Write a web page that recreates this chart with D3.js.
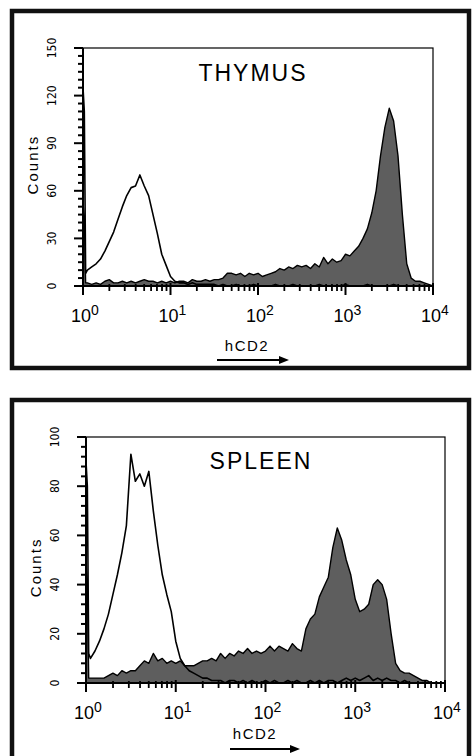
<!DOCTYPE html>
<html>
<head>
<meta charset="utf-8">
<script src="https://cdn.jsdelivr.net/npm/d3@7"></script>
<style>
  body { margin: 0; background: #fff; }
  svg { display: block; }
  text { font-family: "Liberation Sans", Arial, sans-serif; fill: #000; }
</style>
</head>
<body>
<div id="plot"></div>
<script>
// channel positions, in decades (log10 of hCD2 fluorescence)
const logBins = [0, 0.015, 0.03, 0.05, 0.10, 0.15, 0.20, 0.25, 0.30, 0.35, 0.40, 0.45, 0.50, 0.55, 0.60, 0.65,
  0.70, 0.75, 0.80, 0.85, 0.90, 0.95, 1.00, 1.05, 1.10, 1.15, 1.20, 1.25, 1.30, 1.35, 1.40, 1.45,
  1.50, 1.55, 1.60, 1.65, 1.70, 1.75, 1.80, 1.85, 1.90, 1.95, 2.00, 2.05, 2.10, 2.15, 2.20, 2.25,
  2.30, 2.35, 2.40, 2.45, 2.50, 2.55, 2.60, 2.65, 2.70, 2.75, 2.80, 2.85, 2.90, 2.95, 3.00, 3.05,
  3.10, 3.15, 3.20, 3.25, 3.30, 3.35, 3.40, 3.45, 3.50, 3.55, 3.60, 3.65, 3.70, 3.75, 3.80, 3.85,
  3.90, 3.95, 4.00];

// thymus: hCD2 stained (grey fill) and control (open line)
const thymusStained = [52, 44, 2, 2, 1, 2, 1, 3, 4, 2, 2, 3, 2, 3, 2, 3,
  4, 3, 3, 2, 3, 2, 3, 2, 3, 3, 2, 4, 3, 3, 4, 3,
  4, 4, 5, 8, 8, 7, 8, 6, 8, 7, 8, 6, 7, 8, 9, 11,
  10, 12, 11, 13, 12, 13, 11, 14, 12, 18, 14, 17, 15, 16, 20, 19,
  22, 25, 30, 36, 46, 60, 82, 100, 112, 104, 82, 45, 14, 5, 3, 3,
  2, 1, 0];
const thymusControl = [125, 110, 8, 10, 12, 14, 17, 22, 28, 34, 42, 50, 57, 62, 63, 70,
  63, 57, 45, 33, 20, 13, 6, 3, 2, 2, 1, 2, 1, 1, 1, 1,
  1, 0, 1, 0, 0, 1, 0, 0, 0, 1, 0, 0, 0, 0, 1, 0,
  0, 0, 1, 0, 0, 0, 0, 0, 1, 0, 0, 0, 0, 0, 1, 0,
  0, 0, 0, 1, 0, 0, 0, 0, 0, 1, 0, 0, 0, 0, 0, 0,
  0, 0, 0];

// spleen: hCD2 stained (grey fill) and control (open line)
const spleenStained = [50, 42, 2, 2, 2, 2, 2, 3, 4, 3, 5, 4, 5, 5, 7, 9,
  8, 12, 9, 10, 8, 9, 8, 9, 7, 7, 7, 8, 9, 9, 10, 9,
  12, 10, 12, 11, 13, 12, 14, 12, 13, 12, 13, 15, 13, 15, 14, 13,
  16, 14, 13, 22, 26, 28, 35, 39, 43, 55, 63, 58, 50, 44, 34, 29,
  30, 32, 40, 42, 40, 34, 20, 8, 5, 4, 4, 3, 2, 1, 1, 0,
  0, 0, 0];
const spleenControl = [90, 80, 12, 10, 13, 17, 22, 28, 36, 44, 53, 64, 93, 82, 85, 80,
  86, 70, 56, 44, 36, 29, 17, 10, 7, 5, 4, 3, 2, 2, 1, 1,
  1, 0, 1, 1, 0, 1, 0, 1, 0, 0, 1, 0, 1, 0, 0, 1,
  0, 1, 0, 0, 1, 0, 1, 0, 1, 1, 0, 1, 2, 1, 2, 1,
  2, 3, 1, 2, 1, 2, 1, 1, 0, 1, 0, 0, 0, 0, 0, 0,
  0, 0, 0];

const thymusYTicks = [0, 30, 60, 90, 120, 150];
const spleenYTicks = [0, 20, 40, 60, 80, 100];
const xTickExponents = [0, 1, 2, 3, 4];

const svg = d3.select("#plot")
    .append("svg")
    .attr("width", 472)
    .attr("height", 756);

function drawPanel(p) {
    // heavy outer frame
    svg.append("rect")
        .attr("x", p.frame[0]).attr("y", p.frame[1])
        .attr("width", p.frame[2]).attr("height", p.frame[3])
        .attr("fill", "none")
        .attr("stroke", "#111")
        .attr("stroke-width", 4.5);

    const g = svg.append("g")
        .attr("transform", `translate(${p.left},${p.top})`);

    const x = d3.scaleLog().domain([1, 1e4]).range([0, p.width]);
    const y = d3.scaleLinear().domain([0, p.yMax]).range([p.height, 0]);

    const pts = vals => logBins.map((b, i) => [x(Math.pow(10, b)), y(vals[i])]);

    // stained histogram, grey filled
    g.append("path")
        .datum(pts(p.stained))
        .attr("fill", "#5e5e5e")
        .attr("stroke", "#000")
        .attr("stroke-width", 1.4)
        .attr("stroke-linejoin", "round")
        .attr("d", d3.area().x(d => d[0]).y0(p.height).y1(d => d[1]));

    // control histogram, open line
    g.append("path")
        .datum(pts(p.control))
        .attr("fill", "none")
        .attr("stroke", "#000")
        .attr("stroke-width", 1.6)
        .attr("stroke-linejoin", "round")
        .attr("d", d3.line().x(d => d[0]).y(d => d[1]));

    // plot frame, axes a bit heavier
    g.append("rect")
        .attr("width", p.width).attr("height", p.height)
        .attr("fill", "none")
        .attr("stroke", "#000")
        .attr("stroke-width", 1.2);
    g.append("line")
        .attr("x1", 0).attr("x2", 0).attr("y1", 0).attr("y2", p.height)
        .attr("stroke", "#000").attr("stroke-width", 2);
    g.append("line")
        .attr("x1", 0).attr("x2", p.width).attr("y1", p.height).attr("y2", p.height)
        .attr("stroke", "#000").attr("stroke-width", 2);

    // y ticks: minor every step, major at labelled values
    const yMinor = d3.range(0, p.yMax + 0.01, p.yMinorStep).filter(v => !p.yTicks.includes(v));
    g.selectAll(".ymin")
        .data(yMinor)
        .join("line")
        .attr("class", "ymin")
        .attr("x1", -5).attr("x2", 0)
        .attr("y1", d => y(d)).attr("y2", d => y(d))
        .attr("stroke", "#000").attr("stroke-width", 2);
    g.selectAll(".ymaj")
        .data(p.yTicks)
        .join("line")
        .attr("class", "ymaj")
        .attr("x1", -9).attr("x2", 0)
        .attr("y1", d => y(d)).attr("y2", d => y(d))
        .attr("stroke", "#000").attr("stroke-width", 2);

    g.selectAll(".ylab")
        .data(p.yTicks)
        .join("text")
        .attr("class", "ylab")
        .attr("transform", d => `translate(-27,${y(d)}) rotate(-90)`)
        .attr("text-anchor", "middle")
        .style("font-family", "'DejaVu Sans Condensed', 'DejaVu Sans', sans-serif")
        .style("font-size", "12px")
        .text(d => d);

    g.append("text")
        .attr("transform", `translate(-45,${p.height * p.countsAt}) rotate(-90)`)
        .attr("text-anchor", "middle")
        .style("font-size", "15px")
        .style("letter-spacing", "2px")
        .text("Counts");

    // x ticks on the log scale
    const xMinor = [];
    xTickExponents.slice(0, -1).forEach(e => {
        for (let k = 2; k <= 9; k++) xMinor.push(k * Math.pow(10, e));
    });
    g.selectAll(".xmin")
        .data(xMinor)
        .join("line")
        .attr("class", "xmin")
        .attr("x1", d => x(d)).attr("x2", d => x(d))
        .attr("y1", p.height - 2).attr("y2", p.height + 5)
        .attr("stroke", "#000").attr("stroke-width", 1.8);
    g.selectAll(".xmaj")
        .data(xTickExponents)
        .join("line")
        .attr("class", "xmaj")
        .attr("x1", d => x(Math.pow(10, d))).attr("x2", d => x(Math.pow(10, d)))
        .attr("y1", p.height - 3).attr("y2", p.height + 9)
        .attr("stroke", "#000").attr("stroke-width", 2);

    const xl = g.selectAll(".xlab")
        .data(xTickExponents)
        .join("text")
        .attr("class", "xlab")
        .attr("x", d => x(Math.pow(10, d)) + 2)
        .attr("y", p.height + 36)
        .attr("text-anchor", "middle")
        .style("font-size", "18px");
    xl.append("tspan").text("10");
    xl.append("tspan").attr("dy", -7).style("font-size", "14px").text(d => d);

    // title
    g.append("text")
        .attr("x", p.titleX)
        .attr("y", p.titleY)
        .attr("text-anchor", "middle")
        .style("font-size", "23px")
        .style("letter-spacing", "2px")
        .text(p.title);

    // hCD2 label with arrow
    g.append("text")
        .attr("x", p.labelX)
        .attr("y", p.height + p.labelDy)
        .attr("text-anchor", "middle")
        .style("font-size", "15px")
        .style("letter-spacing", "1.5px")
        .text("hCD2");
    const ay = p.height + p.arrowDy;
    g.append("line")
        .attr("x1", p.arrowX[0]).attr("x2", p.arrowX[1] - 6)
        .attr("y1", ay).attr("y2", ay)
        .attr("stroke", "#000").attr("stroke-width", 2);
    g.append("path")
        .attr("d", `M${p.arrowX[1]},${ay} L${p.arrowX[1] - 10},${ay - 4} L${p.arrowX[1] - 10},${ay + 4} Z`)
        .attr("fill", "#000");
}

drawPanel({
    frame: [12, 11, 457, 357],
    left: 83, top: 48, width: 350, height: 238,
    yMax: 150, yTicks: thymusYTicks, yMinorStep: 5,
    stained: thymusStained, control: thymusControl,
    title: "THYMUS", titleX: 170, titleY: 33,
    countsAt: 0.49,
    labelX: 164, labelDy: 65, arrowDy: 74, arrowX: [134, 206]
});

drawPanel({
    frame: [12, 400, 457, 400],
    left: 86, top: 437, width: 359, height: 246,
    yMax: 100, yTicks: spleenYTicks, yMinorStep: 4,
    stained: spleenStained, control: spleenControl,
    title: "SPLEEN", titleX: 175, titleY: 32,
    countsAt: 0.53,
    labelX: 169, labelDy: 56, arrowDy: 66, arrowX: [144, 214]
});
</script>
</body>
</html>
